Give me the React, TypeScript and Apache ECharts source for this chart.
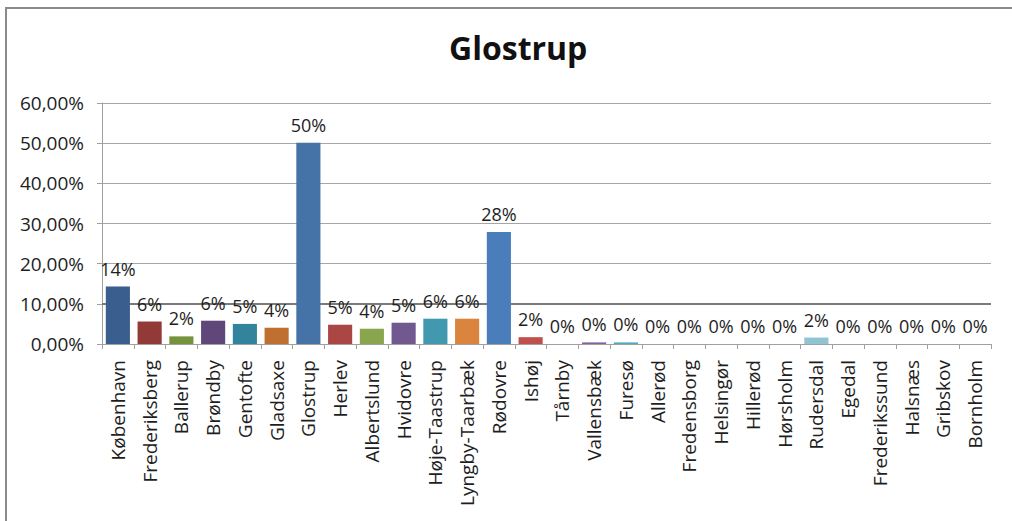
import React, { useEffect, useRef } from "react";
import * as echarts from "echarts";

const titleText = "Glostrup";

const categories = [
  "København", "Frederiksberg", "Ballerup", "Brøndby", "Gentofte", "Gladsaxe",
  "Glostrup", "Herlev", "Albertslund", "Hvidovre", "Høje-Taastrup", "Lyngby-Taarbæk",
  "Rødovre", "Ishøj", "Tårnby", "Vallensbæk", "Furesø", "Allerød",
  "Fredensborg", "Helsingør", "Hillerød", "Hørsholm", "Rudersdal", "Egedal",
  "Frederikssund", "Halsnæs", "Gribskov", "Bornholm",
];

// percent values
const values = [
  14.3, 5.6, 1.9, 5.8, 5.0, 4.05,
  50.1, 4.8, 3.8, 5.3, 6.3, 6.3,
  27.9, 1.7, 0, 0.4, 0.4, 0,
  0, 0, 0, 0, 1.6, 0,
  0, 0, 0, 0,
];

const barColors = [
  "#3A5F8F", "#923A37", "#76923C", "#5F4879", "#31849B", "#BF7031",
  "#4572A7", "#AA4643", "#89A54E", "#71588F", "#4198AF", "#DB843D",
  "#4A7EBB", "#C0504D", "#9BBB59", "#8064A2", "#4BACC6", "#F79646",
  "#95B3D7", "#D99694", "#C3D69B", "#B3A2C7", "#8FC4D5", "#FAC090",
  "#254061", "#632523", "#4F6228", "#3F3151",
];

const yMin = 0;
const yMax = 60;
const yInterval = 10;

const FONT = "'Open Sans', sans-serif";

export default function App() {
  const ref = useRef<HTMLDivElement>(null);

  useEffect(() => {
    document.body.style.margin = "0";
    if (!ref.current) return;
    const chart = echarts.init(ref.current, null, { renderer: "svg" });
    chart.setOption({
      animation: false,
      backgroundColor: "#ffffff",
      title: {
        text: titleText,
        left: 444,
        top: 26,
        textStyle: {
          fontFamily: FONT,
          fontWeight: "bold",
          fontSize: 32,
          color: "#111111",
        },
      },
      graphic: [
        {
          type: "line",
          shape: { x1: 5, y1: 8, x2: 1012, y2: 8 },
          style: { stroke: "#8a8a8a", lineWidth: 2 },
        },
        {
          type: "line",
          shape: { x1: 6, y1: 7, x2: 6, y2: 521 },
          style: { stroke: "#8a8a8a", lineWidth: 2 },
        },
      ],
      grid: { left: 102, right: 21, top: 103, bottom: 177 },
      xAxis: {
        type: "category",
        data: categories,
        axisLine: { lineStyle: { color: "#a0a0a0", width: 1 } },
        axisTick: { show: true, length: 5, lineStyle: { color: "#a0a0a0" } },
        axisLabel: {
          rotate: 90,
          interval: 0,
          margin: 16,
          fontFamily: FONT,
          fontSize: 19,
          color: "#1e1e1e",
        },
      },
      yAxis: {
        type: "value",
        min: yMin,
        max: yMax,
        interval: yInterval,
        axisLine: { show: true, lineStyle: { color: "#a0a0a0", width: 1 } },
        axisTick: { show: true, length: 5, lineStyle: { color: "#a0a0a0" } },
        splitLine: { lineStyle: { color: "#a6a6a6", width: 1 } },
        axisLabel: {
          margin: 18,
          fontFamily: FONT,
          fontSize: 19,
          color: "#1e1e1e",
          formatter: (v: number) => v.toFixed(2).replace(".", ",") + "%",
        },
      },
      series: [
        {
          type: "bar",
          data: values.map((v, i) => ({ value: v, itemStyle: { color: barColors[i] } })),
          barCategoryGap: "24%",
          label: {
            show: true,
            position: "top",
            distance: 9,
            fontFamily: FONT,
            fontSize: 18,
            color: "#1e1e1e",
            formatter: (p: any) => Math.round(p.value) + "%",
          },
          markLine: {
            silent: true,
            symbol: "none",
            label: { show: false },
            lineStyle: { color: "#7a7a7a", width: 2, type: "solid" },
            data: [{ yAxis: 10 }],
            z: 1,
          },
        },
      ],
    });
    return () => chart.dispose();
  }, []);

  return <div ref={ref} style={{ width: 1012, height: 521 }} />;
}
